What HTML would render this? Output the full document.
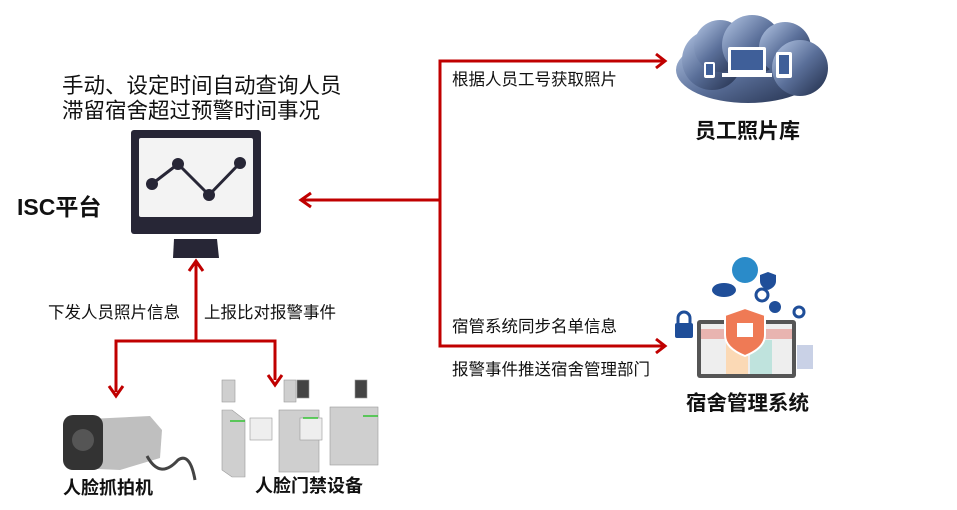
<!DOCTYPE html>
<html><head><meta charset="utf-8"><style>
body{margin:0;width:957px;height:510px;background:#fff;position:relative;overflow:hidden;font-family:"Liberation Sans","Noto Sans CJK SC",sans-serif;}
.t{position:absolute;white-space:nowrap;color:#111;}
.b{font-weight:bold;}
</style></head><body>
<svg width="957" height="510" style="position:absolute;left:0;top:0">
<defs>
<linearGradient id="cg" x1="0" y1="0" x2="1" y2="1"><stop offset="0" stop-color="#b6c8e6"/><stop offset="0.5" stop-color="#5a6f99"/><stop offset="1" stop-color="#1f2b47"/></linearGradient>
</defs>
<g stroke="#c00000" stroke-width="3" fill="none">
<polyline points="663,61 440,61 440,346 663,346"/>
<line x1="440" y1="200" x2="302" y2="200"/>
<line x1="196" y1="262" x2="196" y2="341"/>
<polyline points="116,392 116,341 275,341 275,380"/>
</g>
<g fill="none" stroke="#c00000" stroke-width="3">
<polyline points="656,54 665,61 656,68"/>
<polyline points="656,339 665,346 656,353"/>
<polyline points="311,193 301,200 311,207"/>
<polyline points="189,271 196,261 203,271"/>
<polyline points="109,386 116,396 123,386"/>
<polyline points="268,375 275,385 282,375"/>
</g>
<rect x="131" y="130" width="130" height="104" rx="3" fill="#272636"/>
<rect x="139" y="138" width="114" height="79" rx="2" fill="#f3f3f3"/>
<path d="M174,239 H217 L219,258 H173 Z" fill="#272636"/>
<g stroke="#272636" stroke-width="3"><line x1="152" y1="184" x2="178" y2="164"/><line x1="178" y1="164" x2="209" y2="195"/><line x1="209" y1="195" x2="240" y2="163"/></g>
<g fill="#272636"><circle cx="152" cy="184" r="6"/><circle cx="178" cy="164" r="6"/><circle cx="209" cy="195" r="6"/><circle cx="240" cy="163" r="6"/></g>
<g fill="url(#cg)">
<ellipse cx="748" cy="70" rx="72" ry="33"/>
<circle cx="712" cy="60" r="30"/><circle cx="720" cy="46" r="26"/><circle cx="752" cy="45" r="30"/><circle cx="785" cy="48" r="26"/><circle cx="800" cy="68" r="28"/>
</g>
<g fill="#fff"><rect x="728" y="47" width="38" height="27" rx="2"/><rect x="722" y="73" width="50" height="4"/><rect x="776" y="52" width="16" height="26" rx="2"/><rect x="704" y="62" width="11" height="16" rx="2"/></g>
<rect x="731" y="50" width="32" height="20" fill="#3f5f99"/><rect x="779" y="55" width="10" height="19" fill="#3f5f99"/><rect x="706" y="64" width="7" height="11" fill="#3f5f99"/>
<rect x="697" y="320" width="99" height="58" rx="3" fill="#555"/>
<rect x="701" y="324" width="91" height="50" fill="#eee"/>
<rect x="701" y="329" width="91" height="10" fill="#e8b4b0"/>
<rect x="726" y="340" width="22" height="34" fill="#fbd9b5"/><rect x="750" y="340" width="22" height="34" fill="#bfe3dd"/>
<path d="M745,308 L765,315 V335 Q765,348 745,356 Q725,348 725,335 V315 Z" fill="#ef7a55" stroke="#fff" stroke-width="2"/>
<rect x="737" y="323" width="16" height="14" fill="#fff"/>
<circle cx="745" cy="270" r="13" fill="#2a8bc9"/><path d="M768,272 l8,3 v6 q0,6 -8,9 q-8,-3 -8,-9 v-6z" fill="#1f4e99"/>
<ellipse cx="724" cy="290" rx="12" ry="7" fill="#1f4e99"/><circle cx="762" cy="295" r="6" fill="none" stroke="#1f4e99" stroke-width="3"/>
<rect x="675" y="323" width="18" height="15" rx="2" fill="#1f4e99"/><path d="M678,323 v-5 a6,6 0 0 1 12,0 v5" fill="none" stroke="#1f4e99" stroke-width="3"/>
<circle cx="775" cy="307" r="6" fill="#1f4e99"/><circle cx="799" cy="312" r="5" fill="none" stroke="#1f4e99" stroke-width="3"/>
<rect x="797" y="345" width="16" height="24" fill="#c9d1e6"/>
<path d="M68,420 L150,416 L162,430 L160,458 L120,470 L75,468 Z" fill="#bfbfbf"/>
<rect x="63" y="415" width="40" height="55" rx="10" fill="#333"/>
<circle cx="83" cy="440" r="11" fill="#555"/>
<path d="M147,456 Q160,480 178,460 Q190,452 195,480" fill="none" stroke="#444" stroke-width="3"/>
<g fill="#cfcfcf" stroke="#999" stroke-width="0.6">
<rect x="222" y="380" width="13" height="22"/><path d="M222,410 L232,410 L245,420 L245,477 L232,477 L222,470Z"/>
<rect x="284" y="380" width="12" height="22"/><rect x="297" y="380" width="12" height="18" fill="#444"/>
<rect x="279" y="410" width="40" height="62"/>
<rect x="355" y="380" width="12" height="18" fill="#444"/>
<rect x="330" y="407" width="48" height="58"/>
<rect x="250" y="418" width="22" height="22" fill="#eee"/><rect x="300" y="418" width="22" height="22" fill="#eee"/>
</g>
<g stroke="#33c233" stroke-width="1.5"><line x1="230" y1="421" x2="245" y2="421"/><line x1="303" y1="418" x2="318" y2="418"/><line x1="363" y1="416" x2="378" y2="416"/></g>
</svg>
<div class="t" style="left:62px;top:74px;font-size:21.5px;line-height:25px;">手动、设定时间自动查询人员<br>滞留宿舍超过预警时间事况</div>
<div class="t b" style="left:17px;top:188px;font-size:23px;">ISC平台</div>
<div class="t" style="left:48px;top:299px;font-size:16.5px;">下发人员照片信息</div>
<div class="t" style="left:204px;top:299px;font-size:16.5px;">上报比对报警事件</div>
<div class="t" style="left:452px;top:66px;font-size:16.5px;">根据人员工号获取照片</div>
<div class="t" style="left:452px;top:313px;font-size:16.5px;">宿管系统同步名单信息</div>
<div class="t" style="left:452px;top:356px;font-size:16.5px;">报警事件推送宿舍管理部门</div>
<div class="t b" style="left:695px;top:115px;font-size:21px;">员工照片库</div>
<div class="t b" style="left:686px;top:386px;font-size:20.5px;">宿舍管理系统</div>
<div class="t b" style="left:63px;top:474px;font-size:18px;">人脸抓拍机</div>
<div class="t b" style="left:255px;top:472px;font-size:18px;">人脸门禁设备</div>
</body></html>
